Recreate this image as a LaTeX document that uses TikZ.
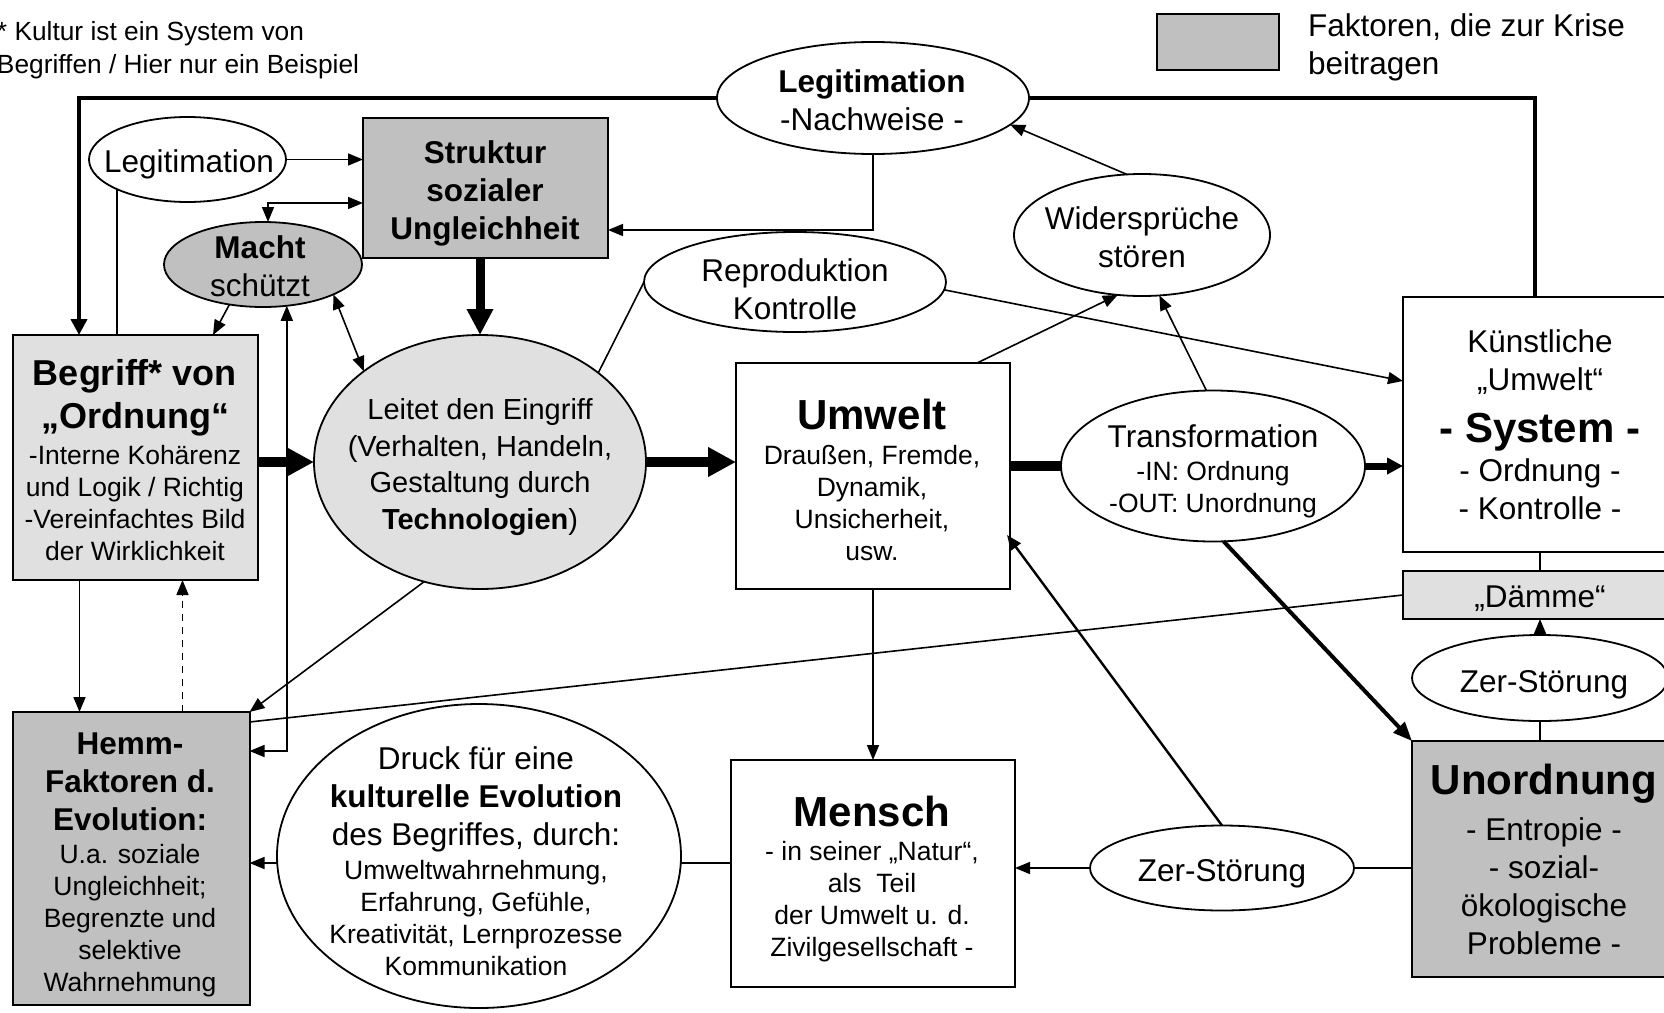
\documentclass[tikz,border=0pt]{standalone}
\usepackage{fontspec}
\setmainfont{Liberation Sans}
\usetikzlibrary{shapes.geometric, arrows.meta, calc}
\definecolor{silv}{RGB}{192,192,192}
\definecolor{lite}{RGB}{224,224,224}
\newcommand\FzNote{\fontsize{26.3}{33}\selectfont}
\newcommand\FzBig{\fontsize{31.5}{38}\selectfont}
\newcommand\FzSmall{\fontsize{26.5}{32}\selectfont}
\newcommand\FzTitle{\fontsize{42}{48}\selectfont\bfseries}
\newcommand\FzBeg{\fontsize{36}{42.5}\selectfont\bfseries}
\newcommand\FzLeit{\fontsize{29}{36.5}\selectfont}
\begin{document}
\begin{tikzpicture}[x=1pt,y=-1pt,
  box/.style={draw, line width=2pt, rectangle, inner sep=0pt, outer sep=0pt},
  ell/.style={draw, line width=1.8pt, ellipse, inner sep=0pt, outer sep=0pt},
  txt/.style={inner sep=0pt, outer sep=0pt, align=center},
  con/.style={line width=1.6pt},
  arr/.style={con, -{Triangle[length=15pt,width=12pt]}},
  darr/.style={con, {Triangle[length=15pt,width=12pt]}-{Triangle[length=15pt,width=12pt]}},
  fat/.style={line width=10pt, -{Triangle[length=28pt,width=28pt]}},
  fatb/.style={line width=9pt, -{Triangle[length=26pt,width=25pt]}},
  med/.style={line width=7pt, -{Triangle[length=16pt,width=16pt]}},
  thk/.style={line width=4pt, -{Triangle[length=19pt,width=15pt]}},
  frame/.style={line width=4.5pt}
]
\fill[white] (0,0) rectangle (1664,1012);
\useasboundingbox (0,0) rectangle (1664,1012);

% ---------- boxes ----------
\node[box, fill=silv, minimum width=122pt, minimum height=56pt] (legend) at (1218,42) {};
\node[box, fill=silv, minimum width=245pt, minimum height=140pt] (struktur) at (485.5,188) {};
\node[box, fill=lite, minimum width=245pt, minimum height=245pt] (begriff) at (135.5,457.5) {};
\node[box, fill=silv, minimum width=237pt, minimum height=293pt] (hemm) at (131,858.5) {};
\node[box, minimum width=274pt, minimum height=226pt] (umwelt) at (873,476) {};
\node[box, minimum width=284pt, minimum height=227pt] (mensch) at (873,873.5) {};
\node[box, minimum width=274pt, minimum height=255pt] (kuenst) at (1540,424.5) {};
\node[box, fill=lite, minimum width=274pt, minimum height=48pt] (daemme) at (1540,595) {};
\node[box, fill=silv, minimum width=265pt, minimum height=236pt] (unord) at (1544.5,859) {};

% ---------- ellipses ----------
\node[ell, minimum width=312pt, minimum height=112pt] (legtop) at (873,98) {};
\node[ell, minimum width=197pt, minimum height=85pt] (legleft) at (187.5,159.5) {};
\node[ell, fill=silv, minimum width=198pt, minimum height=85pt] (macht) at (263,264.5) {};
\node[ell, fill=lite, minimum width=332pt, minimum height=254pt] (leitet) at (480,462) {};
\node[ell, minimum width=302pt, minimum height=100pt] (repro) at (795,282) {};
\node[ell, minimum width=256pt, minimum height=122pt] (wid) at (1142,235) {};
\node[ell, minimum width=304pt, minimum height=151pt] (trans) at (1213,466) {};
\node[ell, minimum width=256pt, minimum height=86pt] (zsr) at (1540,678) {};
\node[ell, minimum width=264pt, minimum height=85pt] (zsb) at (1222,868) {};
\node[ell, minimum width=404pt, minimum height=304pt] (druck) at (479,856) {};

% ---------- texts ----------
\node[txt, align=left, anchor=west, font=\FzNote] (notetxt) at (-3,50) {* Kultur ist ein System von\\Begriffen / Hier nur ein Beispiel};
\node[txt, align=left, anchor=west, font=\FzBig] (legendtxt) at (1308,47.6) {Faktoren, die zur Krise\\beitragen};
\node[txt, font=\FzBig] (legtoptxt) at (872,100) {\textbf{Legitimation}\\-Nachweise -};
\node[txt, font=\FzBig] (leglefttxt) at (189,164) {Legitimation};
\node[txt, font=\FzBig\bfseries] (strukturtxt) at (485,193) {Struktur\\sozialer\\Ungleichheit};
\node[txt, font=\FzBig] (machttxt) at (260,266) {\textbf{Macht}\\schützt};
\node[txt, font=\FzBeg] (begrifftitle) at (135,398) {Begriff* von\\„Ordnung“};
\node[txt, font=\FzSmall] (begriffbody) at (135,503) {-Interne Kohärenz\\und Logik / Richtig\\-Vereinfachtes Bild\\der Wirklichkeit};
\node[txt, font=\FzLeit] (leitettxt) at (480,467) {Leitet den Eingriff\\(Verhalten, Handeln,\\Gestaltung durch\\\textbf{Technologien})};
\node[txt, font=\FzBig] (reprotxt) at (795,289) {Reproduktion\\Kontrolle};
\node[txt, font=\FzBig] (widtxt) at (1142,237) {Widersprüche\\stören};
\node[txt, font=\FzTitle] (umwelttitle) at (872,414) {Umwelt};
\node[txt, font=\FzSmall] (umweltbody) at (872,503) {Draußen, Fremde,\\Dynamik,\\Unsicherheit,\\usw.};
\node[txt, font=\FzBig] (transtitle) at (1213,436) {Transformation};
\node[txt, font=\FzSmall] (transbody) at (1213,490) {-IN: Ordnung\\-OUT: Unordnung};
\node[txt, font=\FzBig] (kuensttop) at (1540,362) {Künstliche\\„Umwelt“};
\node[txt, font=\FzTitle] (kuenstsys) at (1540,432) {- System -};
\node[txt, font=\FzBig] (kuenstbot) at (1540,489) {- Ordnung -\\- Kontrolle -};
\node[txt, font=\FzBig] (daemmetxt) at (1540,599) {„Dämme“};
\node[txt, font=\FzBig] (zsrtxt) at (1544,685) {Zer-Störung};
\node[txt, font=\FzTitle] (unordtitle) at (1544,784) {Unordnung};
\node[txt, font=\FzBig] (unordbody) at (1544,886) {- Entropie -\\- sozial-\\ökologische\\Probleme -};
\node[txt, font=\FzBig] (zsbtxt) at (1222,874) {Zer-Störung};
\node[txt, font=\FzTitle] (menschtitle) at (872,811) {Mensch};
\node[txt, font=\FzSmall] (menschbody) at (872,902) {- in seiner „Natur“,\\als\ \ Teil\\der Umwelt u. d.\\Zivilgesellschaft -};
\node[txt, font=\FzBig] (drucktop) at (476,799) {Druck für eine\\\textbf{kulturelle Evolution}\\des Begriffes, durch:};
\node[txt, font=\FzSmall] (druckbot) at (476,918) {Umweltwahrnehmung,\\Erfahrung, Gefühle,\\Kreativität, Lernprozesse\\Kommunikation};
\node[txt, font=\FzBig\bfseries] (hemmtitle) at (130,782) {Hemm-\\Faktoren d.\\Evolution:};
\node[txt, font=\FzSmall] (hemmbody) at (130,921) {U.a. soziale\\Ungleichheit;\\Begrenzte und\\selektive\\Wahrnehmung};

% ---------- connectors ----------
\draw[frame, -{Triangle[length=16pt,width=16pt]}] (legtop.west) -| ($(begriff.north west)+(66,0)$);
\draw[frame] (legtop.east) -| ($(kuenst.north west)+(132,0)$);
\draw[arr] (legleft.east) -- (legleft.east -| struktur.west);
\draw[con] (legleft.-157) -- (legleft.-157 |- begriff.north);
\draw[darr] ($(macht.north)+(5,0)$) |- ($(struktur.north west)+(0,85)$);
\draw[arr] (macht.-130) -- ($(begriff.north west)+(200,0)$);
\draw[darr] ($(hemm.north east)+(0,39)$) -| (macht.-60);
\draw[darr] (macht.-23) -- (leitet.142);
\draw[fatb] (struktur.south -| leitet.north) -- (leitet.north);
\draw[arr] (legtop.south) |- ($(struktur.north east)+(0,112)$);
\draw[arr] (wid.104) -- (legtop.-11);
\draw[con] (repro.west) -- (leitet.37);
\draw[arr] (repro.-3) -- ($(kuenst.north west)+(0,84)$);
\draw[arr] ($(umwelt.north west)+(241,0)$) -- (wid.-112);
\draw[arr] (trans.95) -- (wid.-74);
\draw[fat] (leitet.east) -- (leitet.east -| umwelt.west);
\draw[fat] (begriff.east |- leitet.west) -- (leitet.west);
\draw[line width=10pt] (trans.west -| umwelt.east) -- (trans.west);
\draw[med] (trans.east) -- (trans.east -| kuenst.west);
\draw[thk] (trans.-82) -- (unord.north west);
\draw[con] (kuenst.south) -- (daemme.north);
\draw[arr] (zsr.north) -- (daemme.south);
\draw[con] (zsr.south) -- (zsr.south |- unord.north);
\draw[con] (daemme.west) -- ($(hemm.north east)+(0,10)$);
\draw[con] (zsb.east) -- (zsb.east -| unord.west);
\draw[arr] (zsb.west) -- (zsb.west -| mensch.east);
\draw[arr, line width=2.4pt] (zsb.north) -- ($(umwelt.south east)+(-3,-54)$);
\draw[arr] (umwelt.south) -- (mensch.north);
\coordinate (mw) at ($(mensch.north west)+(0,103)$);
\draw[con] (mw) -- (mw -| druck.east);
\coordinate (hd) at ($(hemm.north east)+(0,151)$);
\draw[arr] (hd -| druck.west) -- (hd);
\draw[arr] ($(begriff.south west)+(66.5,0)$) -- ($(hemm.north west)+(67,0)$);
\draw[arr, dash pattern=on 7pt off 6pt] ($(hemm.north west)+(170,0)$) -- ($(begriff.south west)+(169.5,0)$);
\draw[arr] (leitet.-115) -- (hemm.north east);
\end{tikzpicture}
\end{document}
